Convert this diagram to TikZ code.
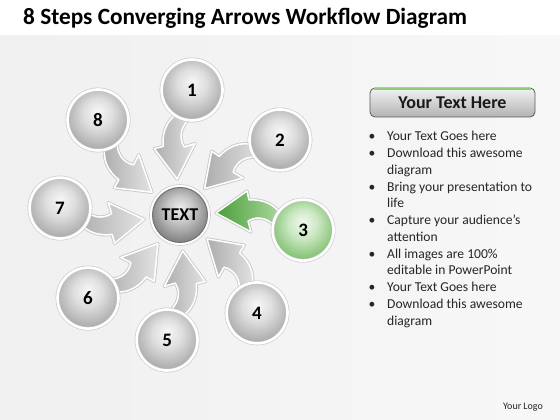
\documentclass[tikz,border=0pt]{standalone}
\usepackage{fontspec}
\setmainfont{Carlito}
\usetikzlibrary{calc}
\definecolor{sphA}{HTML}{F7F7F7}
\definecolor{sphB}{HTML}{DEDEDE}
\definecolor{sphC}{HTML}{ABABAB}
\definecolor{grnA}{HTML}{F0F9EC}
\definecolor{grnB}{HTML}{CBE8C2}
\definecolor{grnC}{HTML}{82C172}
\definecolor{hubA}{HTML}{EDEDED}
\definecolor{hubB}{HTML}{C6C6C6}
\definecolor{hubC}{HTML}{848484}
\definecolor{arrTip}{HTML}{ADADAD}
\definecolor{arrTail}{HTML}{E3E3E3}
\definecolor{garrTip}{HTML}{4A9E3B}
\definecolor{garrTail}{HTML}{AEDA9F}
\definecolor{txtcol}{HTML}{262626}
\definecolor{stripe}{HTML}{8DCC7C}
\pgfdeclareradialshading{graysph}{\pgfpoint{0bp}{7bp}}{color(0bp)=(sphA); color(12bp)=(sphB); color(27bp)=(sphC); color(50bp)=(sphC)}
\pgfdeclareradialshading{greensph}{\pgfpoint{0bp}{7bp}}{color(0bp)=(grnA); color(12bp)=(grnB); color(27bp)=(grnC); color(50bp)=(grnC)}
\pgfdeclareradialshading{hubsph}{\pgfpoint{0bp}{7bp}}{color(0bp)=(hubA); color(12bp)=(hubB); color(27bp)=(hubC); color(50bp)=(hubC)}
\pgfdeclarelayer{back}
\pgfdeclarelayer{mid}
\pgfsetlayers{back,mid,main}
\newcommand\arrowoutline{(36,2) -- (67,24) -- (69,15) .. controls (83,16) and (95,11) .. (103,-2) -- (99,-16) .. controls (90,-3) and (78,0) .. (68,-6) -- (71,-17) -- cycle}
\tikzset{
  convarrow/.pic={
    \path[draw=black!22, line width=3.2pt, line join=round] \arrowoutline;
    \path[pic actions, line width=1.5pt, line join=round] \arrowoutline;
  },
  grayarrow/.style={left color=arrTip, right color=arrTail, draw=white},
  greenarrow/.style={left color=garrTip, right color=garrTail, draw=white},
  stepball/.style={circle, minimum size=61pt, inner sep=0pt, shade, shading=graysph,
    draw=black!22, double=white, double distance=2.6pt, line width=0.6pt,
    font=\bfseries\fontsize{19}{19}\selectfont, text=black},
  greenball/.style={stepball, shading=greensph},
  hubball/.style={circle, minimum size=55pt, inner sep=0pt, shade, shading=hubsph,
    draw=black!55, line width=1pt, font=\bfseries\fontsize{18}{18}\selectfont, text=black},
  bl/.style={font=\fontsize{13.6}{16}\selectfont, text=txtcol, inner sep=0pt},
}
\begin{document}
\begin{tikzpicture}[x=1pt,y=1pt]
\useasboundingbox (0,0) rectangle (560,420);
\begin{pgfonlayer}{back}
\fill[white] (0,0) rectangle (560,420);
\shade[left color=black!6, middle color=white, right color=black!3] (0,0) rectangle (560,384);
\end{pgfonlayer}
% title
\node[anchor=base west, inner sep=0pt, font=\bfseries\fontsize{23.3}{23.3}\selectfont] (title) at (23,395) {8 Steps Converging Arrows Workflow Diagram};
% hub
\node[circle, minimum size=61pt, inner sep=0pt, fill=white, draw=black!20, line width=0.6pt] (hubring) at (180,205) {};
\node[hubball] (hub) at (180,205) {TEXT};
% step circles
\node[stepball] (s1) at ([shift={(84.5:125.6)}]hub.center) {1};
\node[stepball] (s2) at ([shift={(36.9:125)}]hub.center) {2};
\node[greenball] (s3) at ([shift={(-7:124)}]hub.center) {3};
\node[stepball] (s4) at ([shift={(-51.8:124.6)}]hub.center) {4};
\node[stepball] (s5) at ([shift={(-95.9:125.7)}]hub.center) {5};
\node[stepball] (s6) at ([shift={(-137.9:124)}]hub.center) {6};
\node[stepball] (s7) at ([shift={(176.7:120.2)}]hub.center) {7};
\node[stepball] (s8) at ([shift={(130.8:125.5)}]hub.center) {8};
% arrows
\begin{pgfonlayer}{mid}
\pic[grayarrow, rotate=91.5] at (hub.center) {convarrow};
\pic[grayarrow, rotate=43.9] at (hub.center) {convarrow};
\pic[greenarrow, rotate=0] at (hub.center) {convarrow};
\pic[grayarrow, rotate=-44.8] at (hub.center) {convarrow};
\pic[grayarrow, rotate=-88.9] at (hub.center) {convarrow};
\pic[grayarrow, rotate=-130.9] at (hub.center) {convarrow};
\pic[grayarrow, rotate=183.7] at (hub.center) {convarrow};
\pic[grayarrow, rotate=137.8] at (hub.center) {convarrow};
\end{pgfonlayer}
% header button
\node[minimum width=165pt, minimum height=29pt, rounded corners=5pt, top color=black!5, bottom color=black!30,
  draw=black!65, line width=0.8pt, inner sep=0pt, font=\bfseries\fontsize{18}{18}\selectfont, text=black!90] (hdr) at (452.5,317.5) {Your Text Here};
\draw[stripe, line width=2.2pt] ([xshift=4.5pt,yshift=-1.7pt]hdr.north west) -- ([xshift=-4.5pt,yshift=-1.7pt]hdr.north east);
% bullet list
\foreach \i/\b/\t in {0/1/Your Text Goes here, 1/1/Download this awesome, 2/0/diagram,
  3/1/Bring your presentation to, 4/0/life, 5/1/Capture your audience’s, 6/0/attention,
  7/1/All images are 100\%, 8/0/editable in PowerPoint, 9/1/Your Text Goes here,
  10/1/Download this awesome, 11/0/diagram}{
  \node[bl, anchor=base west] (ln\i) at (387,{279-16.75*\i}) {\t};
  \ifnum\b=1
    \node[bl, anchor=base] (bu\i) at (372,{279-16.75*\i}) {•};
  \fi
}
% logo
\node[font=\fontsize{10}{10}\selectfont, text=black!85, inner sep=0pt] (logo) at (523,13) {Your Logo};
\end{tikzpicture}
\end{document}
